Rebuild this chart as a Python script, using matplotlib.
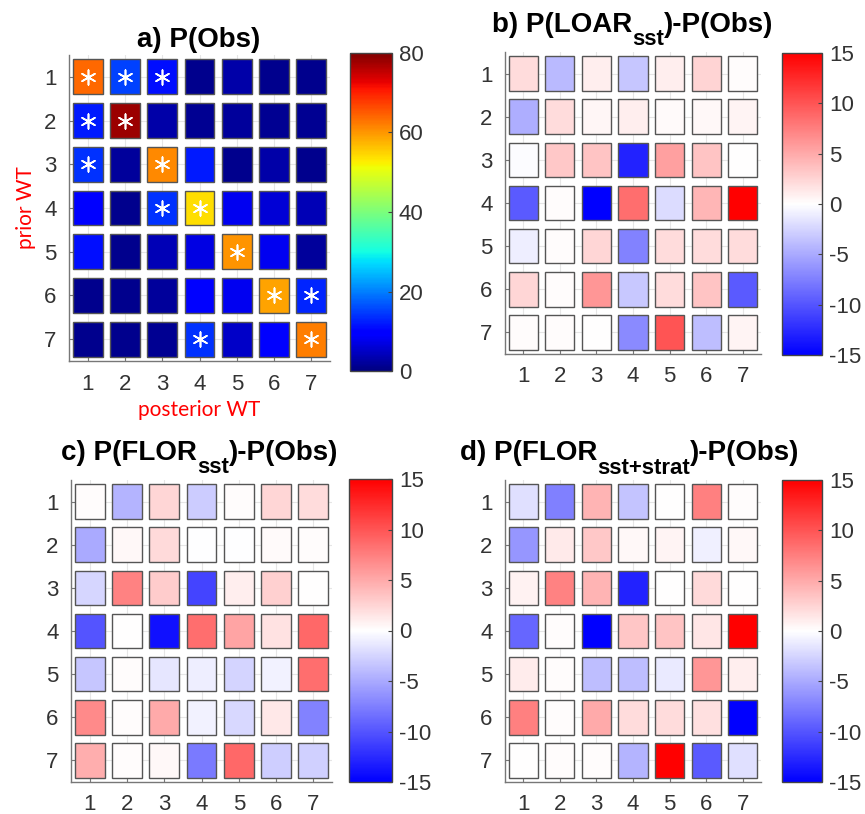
import numpy as np
import matplotlib
matplotlib.use('Agg')
import matplotlib.pyplot as plt
from matplotlib.patches import Rectangle
from matplotlib.colors import LinearSegmentedColormap, Normalize
from matplotlib.cm import ScalarMappable

plt.rcParams['font.family'] = ['Liberation Sans', 'DejaVu Sans']
plt.rcParams['axes.unicode_minus'] = False

wt = [1, 2, 3, 4, 5, 6, 7]

# rows = prior WT, columns = posterior WT
p_obs = [
    [64, 15, 11, 1, 3, 1, 1],
    [12, 78, 3, 1.5, 2, 1.5, 1.5],
    [14, 2, 61, 12, 1, 3, 1],
    [9, 1, 14, 54, 8, 6, 4],
    [11, 1, 4, 7, 60, 8, 2],
    [1, 1, 2, 10, 8, 59, 13],
    [1, 1, 1.5, 14, 5, 9, 62],
]
# significant cells (row, column)
sig = [(1, 1), (1, 2), (1, 3), (2, 1), (2, 2), (3, 1), (3, 3),
       (4, 3), (4, 4), (5, 5), (6, 6), (6, 7), (7, 4), (7, 7)]

d_loar = [
    [2, -4, 1, -3.3, 1, 2.5, 0.2],
    [-4.7, 2, 0.5, 1, 0.3, 0.4, 0.7],
    [-0.2, 3.2, 3.5, -13, 5.6, 3.5, 0.1],
    [-9.7, 0.2, -15, 8.5, -2, 4.3, 15],
    [-1, 0.2, 2.4, -7.3, 2, 2, 2],
    [2.4, 0.2, 6.1, -3.2, 2, 3.5, -9.7],
    [0.2, 0.2, 0, -6.8, 10, -3.8, 0.6],
]
d_flor = [
    [0.2, -4.4, 2.4, -3, 0.2, 2.4, 2],
    [-5, 0.4, 2.2, -0.1, -0.1, 0.3, 0.2],
    [-2.4, 7.3, 3, -11, 1, 2.8, 0.1],
    [-10, 0.1, -14, 8.5, 5.3, 1.7, 8.8],
    [-3.3, 0.2, -1.5, -1, -2.5, -0.8, 8.5],
    [6.8, 0.2, 5, -0.8, -2.3, 1.4, -7.3],
    [4.7, 0.2, 0.4, -7.8, 8.8, -2.9, -2.8],
]
d_flor_strat = [
    [-1.8, -7.4, 4.4, -3.5, 0, 7.4, 0.2],
    [-6.2, 1.2, 3.2, 0.4, 0.7, -0.9, 0.4],
    [0.8, 7.3, 4.4, -13, 0, 2.2, 0],
    [-9, 0.2, -15, 3.3, 3.4, 1.5, 15],
    [1.1, 0.2, -3.8, -3.8, -1.2, 6.2, 1],
    [7.4, 0.2, 5, 2, 2, 1.8, -15],
    [0, 0.2, 0.2, -4.4, 15, -9.7, -1.8],
]

bwr = LinearSegmentedColormap.from_list('bwr2', ['#0000ff', '#ffffff', '#ff0000'])

W, H = 865, 814
fig = plt.figure(figsize=(W / 100, H / 100), dpi=100)
renderer = fig.canvas.get_renderer()


def box(x0, y0, x1, y1):
    return [x0 / W, 1 - y1 / H, (x1 - x0) / W, (y1 - y0) / H]


def rich_title(xc, base, parts):
    # parts: (text, fontsize, drop in px); laid out left to right, centred on xc
    texts = []
    for s, size, drop in parts:
        t = fig.text(0, 0, s, fontsize=size, fontweight='bold', va='baseline', ha='left')
        texts.append((t, drop))
    widths = [t.get_window_extent(renderer).width for t, d in texts]
    x = xc - sum(widths) / 2
    for (t, drop), w in zip(texts, widths):
        t.set_position((x / W, 1 - (base + drop) / H))
        x += w


def panel(rect, crect, vals, cmap, vmin, vmax, cticks):
    ax = fig.add_axes(box(*rect))
    norm = Normalize(vmin, vmax)
    vals = np.array(vals, dtype=float)
    for i, r in enumerate(wt):
        for j, c in enumerate(wt):
            ax.add_patch(Rectangle((c - 0.4, r - 0.4), 0.8, 0.8,
                                   facecolor=cmap(norm(vals[i, j])),
                                   edgecolor='#555555', linewidth=1.0, zorder=3))
    ax.set_xlim(0.5, 7.5)
    ax.set_ylim(7.5, 0.5)
    ax.set_xticks(wt)
    ax.set_yticks(wt)
    ax.grid(True, color='#e6e6e6', linewidth=0.8, zorder=0)
    ax.set_axisbelow(True)
    for s in ['top', 'right']:
        ax.spines[s].set_visible(False)
    for s in ['left', 'bottom']:
        ax.spines[s].set_color('#777777')
        ax.spines[s].set_linewidth(1.0)
    ax.tick_params(direction='in', length=4, color='#777777',
                   labelsize=16, labelcolor='#333333', pad=9)
    cax = fig.add_axes(box(*crect))
    cb = fig.colorbar(ScalarMappable(norm=norm, cmap=cmap), cax=cax, ticks=cticks)
    cb.outline.set_edgecolor('#444444')
    cb.outline.set_linewidth(1.0)
    cax.tick_params(direction='in', length=3, color='#444444',
                    labelsize=16, labelcolor='#333333', pad=5)
    return ax


ax_a = panel((69, 55, 330, 361), (350, 53, 392, 371), p_obs, plt.get_cmap('jet'),
             0, 80, [0, 20, 40, 60, 80])
sr = [r for r, c in sig]
sc = [c for r, c in sig]
ax_a.scatter(sc, sr, marker=(6, 2, 0), s=110, color='white', linewidths=1.2, zorder=4)
ax_a.set_ylabel('prior WT', color='red', fontsize=15, family='Lato', labelpad=6)
ax_a.set_xlabel('posterior WT', color='red', fontsize=15, family='Lato', labelpad=4)

dticks = [-15, -10, -5, 0, 5, 10, 15]
panel((505, 52, 761, 354), (782, 53, 822, 355), d_loar, bwr, -15, 15, dticks)
panel((71, 480, 332, 782), (349, 479, 392, 782), d_flor, bwr, -15, 15, dticks)
panel((505, 480, 761, 782), (782, 480, 822, 782), d_flor_strat, bwr, -15, 15, dticks)

rich_title(199, 47, [('a) P(Obs)', 20, 0)])
rich_title(633, 32, [('b) P(LOAR', 20, 0), ('sst', 16, 13), (')-P(Obs)', 20, 0)])
rich_title(200, 460, [('c) P(FLOR', 20, 0), ('sst', 16, 13), (')-P(Obs)', 20, 0)])
rich_title(630, 460, [('d) P(FLOR', 20, 0), ('sst+strat', 16, 14), (')-P(Obs)', 20, 0)])

fig.savefig('out.png', dpi=100)
